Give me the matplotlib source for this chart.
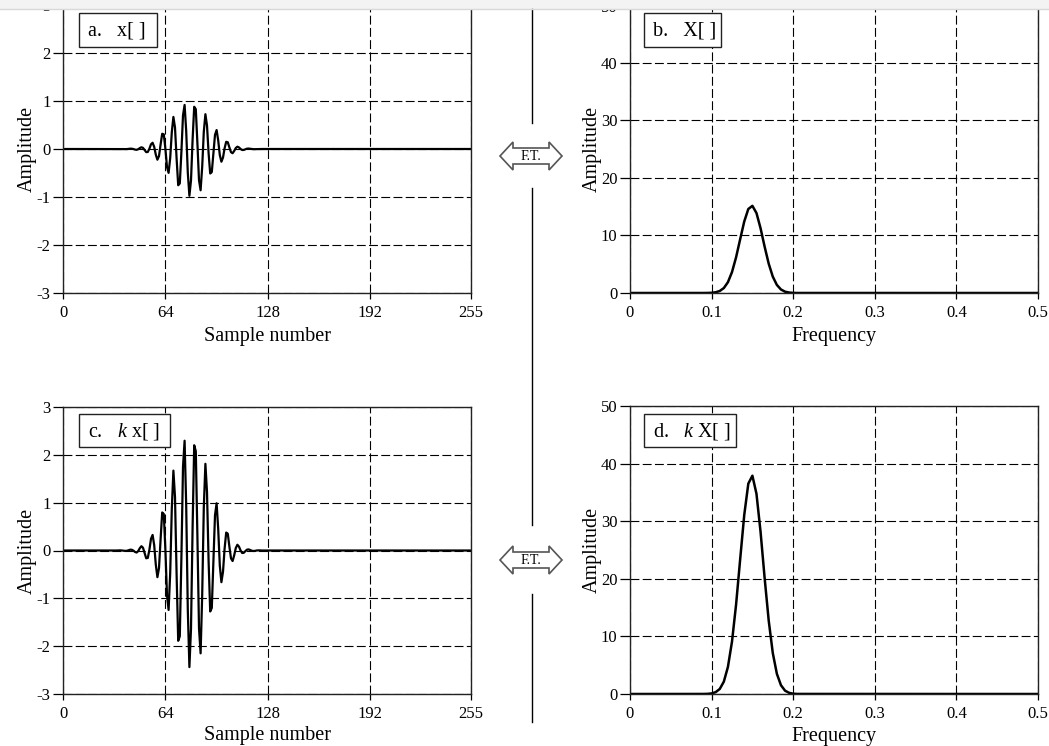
import matplotlib
matplotlib.use('Agg')
import matplotlib.pyplot as plt
import numpy as np
from matplotlib.patches import Rectangle, Polygon

plt.rcParams.update({
    'font.family': 'Liberation Serif',
    'mathtext.fontset': 'custom',
    'mathtext.rm': 'Liberation Serif',
    'mathtext.it': 'Liberation Serif:italic',
    'axes.linewidth': 1.0,
    'axes.unicode_minus': False,
})

# ── data ──
k = 2.5                       # scale factor between top and bottom rows
burst_start = 34              # first sample of the burst listed below
x_burst = [
    0.000, 0.001, 0.001, 0.000, -0.002, -0.003, -0.002, 0.002, 0.007, 0.006,
    -0.001, -0.012, -0.017, -0.005, 0.019, 0.036, 0.023, -0.021, -0.065, -0.062,
    0.006, 0.098, 0.130, 0.045, -0.118, -0.223, -0.147, 0.095, 0.318, 0.305,
    0.003, -0.376, -0.497, -0.189, 0.349, 0.668, 0.447, -0.200, -0.755, -0.717,
    -0.059, 0.700, 0.918, 0.375, -0.497, -0.975, -0.654, 0.195, 0.880, 0.830,
    0.120, -0.650, -0.860, -0.370, 0.360, 0.725, 0.490, -0.090, -0.510, -0.480,
    -0.092, 0.295, 0.395, 0.180, -0.125, -0.265, -0.178, 0.016, 0.150, 0.140,
    0.032, -0.066, -0.088, -0.040, 0.021, 0.048, 0.032, 0.000, -0.021, -0.019,
    -0.005, 0.007, 0.009, 0.004, -0.002, -0.004, -0.003, 0.000, 0.001, 0.001,
    0.000,
]
n_samples = 256
freq = [0.0, 0.090, 0.095, 0.100, 0.105, 0.110, 0.115, 0.120, 0.125, 0.130,
        0.135, 0.140, 0.145, 0.150, 0.155, 0.160, 0.165, 0.170, 0.175, 0.180,
        0.185, 0.190, 0.195, 0.200, 0.205, 0.5]
X_mag = [0.0, 0.003, 0.011, 0.04, 0.13, 0.35, 0.86, 1.88, 3.64, 6.21,
         9.35, 12.43, 14.61, 15.16, 13.90, 11.26, 8.05, 5.09, 2.84, 1.40,
         0.61, 0.23, 0.08, 0.02, 0.005, 0.0]

time_ticks = [0, 64, 128, 192, 255]
freq_ticks = [0, 0.1, 0.2, 0.3, 0.4, 0.5]
freq_tick_labels = ['0', '0.1', '0.2', '0.3', '0.4', '0.5']

n = np.arange(n_samples)
x_sig = np.zeros(n_samples)
x_sig[burst_start:burst_start + len(x_burst)] = x_burst
freq = np.array(freq)
X_mag = np.array(X_mag)

W, H = 1049, 746
fig = plt.figure(figsize=(W / 100, H / 100), dpi=100)


def box(l, t, r, b):
    return [l / W, 1 - b / H, (r - l) / W, (b - t) / H]


def style(ax, xlabel, label_y):
    ax.grid(True, color='black', lw=0.8, ls=(0, (8, 3)))
    ax.set_axisbelow(True)
    for s in ax.spines.values():
        s.set_color('#222222')
    ax.tick_params(axis='y', direction='out', length=7, width=0.9, pad=2,
                   labelsize=12)
    ax.tick_params(axis='x', direction='out', length=4, width=0.9, pad=4.5,
                   labelsize=12)
    ax.set_ylabel('Amplitude', fontsize=14.5)
    ax.set_xlabel(xlabel, fontsize=14.5)
    ax.xaxis.set_label_coords(0.5, label_y)


# a. x[]
ax_a = fig.add_axes(box(63, 0, 471, 293))
ax_a.plot(n, x_sig, color='black', lw=1.6)
ax_a.set_xlim(0, 255)
ax_a.set_ylim(-3, -3 + 293 / 48.0)
ax_a.set_xticks(time_ticks)
ax_a.set_yticks([-3, -2, -1, 0, 1, 2, 3])
ax_a.spines['top'].set_visible(False)
style(ax_a, 'Sample number', -0.115)
ax_a.yaxis.set_label_coords(-0.063, 0.49)

# b. X[]
ax_b = fig.add_axes(box(630, 0, 1038, 293))
ax_b.plot(freq, X_mag, color='black', lw=1.8)
ax_b.set_xlim(0, 0.5)
ax_b.set_ylim(0, 293 / 5.75)
ax_b.set_xticks(freq_ticks)
ax_b.set_xticklabels(freq_tick_labels)
ax_b.set_yticks([0, 10, 20, 30, 40, 50])
ax_b.spines['top'].set_visible(False)
style(ax_b, 'Frequency', -0.115)
ax_b.yaxis.set_label_coords(-0.07, 0.49)

# c. k x[]
ax_c = fig.add_axes(box(63, 407, 471, 694))
ax_c.plot(n, k * x_sig, color='black', lw=1.6)
ax_c.set_xlim(0, 255)
ax_c.set_ylim(-3, 3)
ax_c.set_xticks(time_ticks)
ax_c.set_yticks([-3, -2, -1, 0, 1, 2, 3])
style(ax_c, 'Sample number', -0.11)
ax_c.yaxis.set_label_coords(-0.063, 0.5)

# d. k X[]
ax_d = fig.add_axes(box(630, 406, 1038, 694))
ax_d.plot(freq, k * X_mag, color='black', lw=1.8)
ax_d.set_xlim(0, 0.5)
ax_d.set_ylim(0, 50)
ax_d.set_xticks(freq_ticks)
ax_d.set_xticklabels(freq_tick_labels)
ax_d.set_yticks([0, 10, 20, 30, 40, 50])
style(ax_d, 'Frequency', -0.115)
ax_d.yaxis.set_label_coords(-0.07, 0.5)

# overlay in pixel coordinates for panel tags, F.T. arrows and divider
ov = fig.add_axes([0, 0, 1, 1], zorder=10)
ov.set_xlim(0, W)
ov.set_ylim(H, 0)
ov.axis('off')
ov.patch.set_alpha(0)

tags = [((79, 13, 78, 34), 'a.   x[ ]'),
        ((644, 13, 77, 34), 'b.   X[ ]'),
        ((79, 414, 91, 33), r'c.   $k$ x[ ]'),
        ((644, 414, 92, 33), r'd.   $k$ X[ ]')]
for (l, t, w, h), txt in tags:
    ov.add_patch(Rectangle((l, t), w, h, fc='white', ec='#222222', lw=1.0))
    ov.text(l + 9, t + h / 2 + 1, txt, ha='left', va='center', fontsize=14.5)


def ft_arrow(cy):
    pts = [(500, cy), (513, cy - 14), (513, cy - 8), (549, cy - 8),
           (549, cy - 14), (562, cy), (549, cy + 14), (549, cy + 8),
           (513, cy + 8), (513, cy + 14)]
    ov.add_patch(Polygon(pts, closed=True, fc='white', ec='#555555', lw=1.2))
    ov.text(531, cy + 0.5, 'F.T.', ha='center', va='center', fontsize=10)


ft_arrow(156)
ft_arrow(560)
for y0, y1 in [(9, 123), (188, 525), (594, 722)]:
    ov.plot([532, 532], [y0, y1], color='black', lw=1.0)

# light border strip along the top of the reference screenshot
ov.add_patch(Rectangle((0, 0), W, 8.5, fc='#f3f3f3', ec='none'))
ov.plot([0, W], [9, 9], color='#d8d8d8', lw=1.0)

fig.savefig('out.png', dpi=100)
